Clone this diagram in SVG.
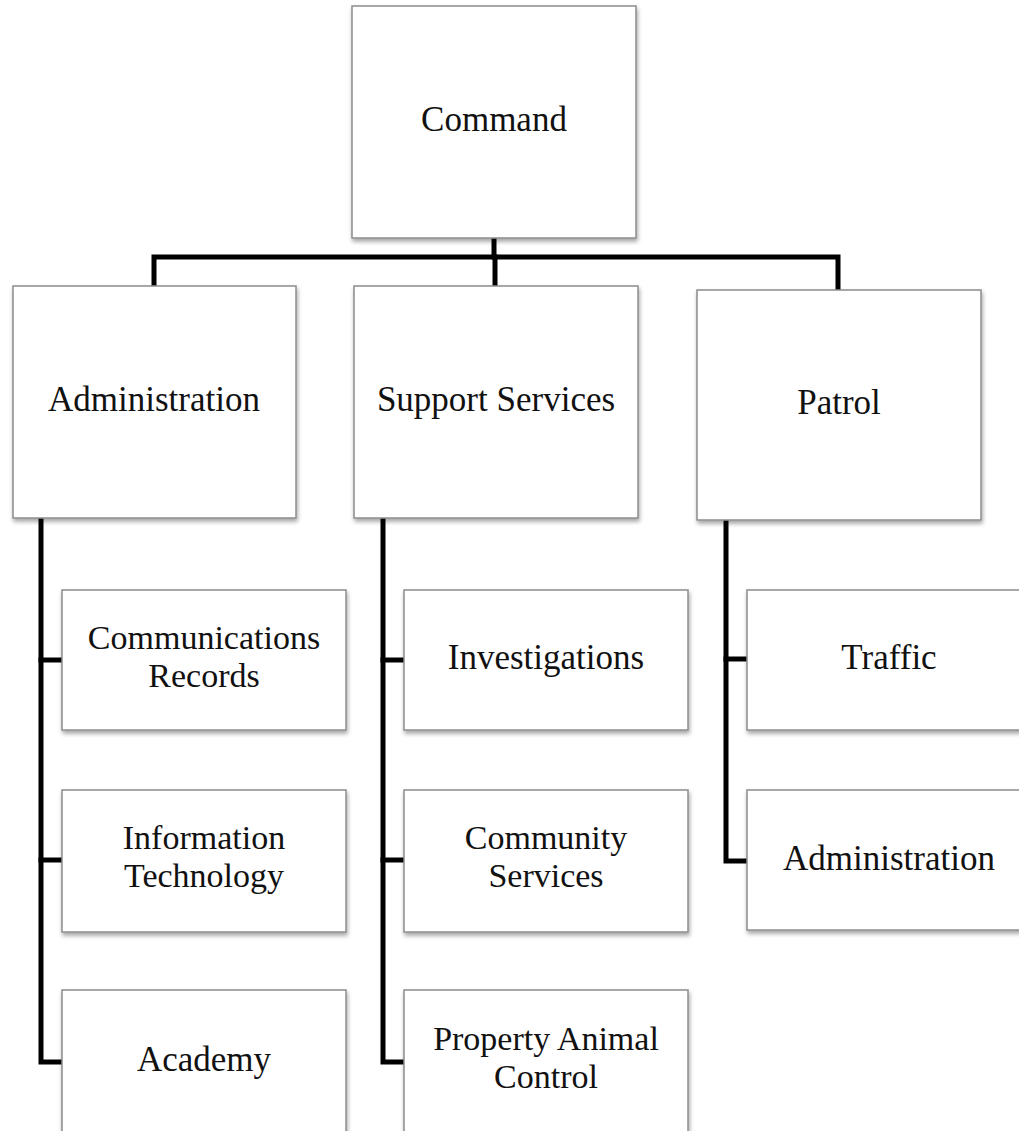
<svg xmlns="http://www.w3.org/2000/svg" width="1019" height="1131" viewBox="0 0 1019 1131">
  <style>
    .box { fill: #ffffff; stroke: #8c8c8c; stroke-width: 1.5; filter: url(#shadow); }
    .label { font-family: "Liberation Serif", "DejaVu Serif", serif; font-size: 35px; fill: #111111; text-anchor: middle; }
    .two { font-size: 34px; }
    .link { fill: none; stroke: #000000; stroke-width: 5; stroke-linejoin: miter; stroke-linecap: square; }
  </style>
  <defs>
    <filter id="shadow" x="-10%" y="-10%" width="125%" height="125%">
      <feDropShadow dx="1" dy="3" stdDeviation="2" flood-color="#000000" flood-opacity="0.35"/>
    </filter>
  </defs>
  <rect width="1019" height="1131" fill="#ffffff"/>

  <!-- connectors -->
  <g id="connectors">
    <polyline class="link" points="494,238 494,257"/>
    <polyline class="link" points="154,286 154,257 838,257 838,290"/>
    <polyline class="link" points="495,257 495,286"/>
    <polyline class="link" points="41,518 41,1062 62,1062"/>
    <polyline class="link" points="41,660 62,660"/>
    <polyline class="link" points="41,860 62,860"/>
    <polyline class="link" points="383,518 383,1062 404,1062"/>
    <polyline class="link" points="383,660 404,660"/>
    <polyline class="link" points="383,860 404,860"/>
    <polyline class="link" points="726,520 726,861 747,861"/>
    <polyline class="link" points="726,659 747,659"/>
  </g>

  <!-- top level -->
  <g id="command">
    <rect class="box" x="352" y="6" width="284" height="232"/>
    <text class="label" x="494" y="131">Command</text>
  </g>

  <!-- divisions -->
  <g id="administration">
    <rect class="box" x="13" y="286" width="283" height="232"/>
    <text class="label" x="154" y="411">Administration</text>
  </g>
  <g id="support-services">
    <rect class="box" x="354" y="286" width="284" height="232"/>
    <text class="label" x="496" y="411">Support Services</text>
  </g>
  <g id="patrol">
    <rect class="box" x="697" y="290" width="284" height="230"/>
    <text class="label" x="839" y="414">Patrol</text>
  </g>

  <!-- administration units -->
  <g id="communications-records">
    <rect class="box" x="62" y="590" width="284" height="140"/>
    <text class="label two" x="204" y="649">Communications</text>
    <text class="label two" x="204" y="687">Records</text>
  </g>
  <g id="information-technology">
    <rect class="box" x="62" y="790" width="284" height="142"/>
    <text class="label two" x="204" y="849">Information</text>
    <text class="label two" x="204" y="887">Technology</text>
  </g>
  <g id="academy">
    <rect class="box" x="62" y="990" width="284" height="200"/>
    <text class="label" x="204" y="1071">Academy</text>
  </g>

  <!-- support services units -->
  <g id="investigations">
    <rect class="box" x="404" y="590" width="284" height="140"/>
    <text class="label" x="546" y="669">Investigations</text>
  </g>
  <g id="community-services">
    <rect class="box" x="404" y="790" width="284" height="142"/>
    <text class="label two" x="546" y="849">Community</text>
    <text class="label two" x="546" y="887">Services</text>
  </g>
  <g id="property-animal-control">
    <rect class="box" x="404" y="990" width="284" height="200"/>
    <text class="label two" x="546" y="1050">Property Animal</text>
    <text class="label two" x="546" y="1088">Control</text>
  </g>

  <!-- patrol units -->
  <g id="traffic">
    <rect class="box" x="747" y="590" width="284" height="140"/>
    <text class="label" x="889" y="669">Traffic</text>
  </g>
  <g id="patrol-administration">
    <rect class="box" x="747" y="790" width="284" height="140"/>
    <text class="label" x="889" y="870">Administration</text>
  </g>
</svg>
